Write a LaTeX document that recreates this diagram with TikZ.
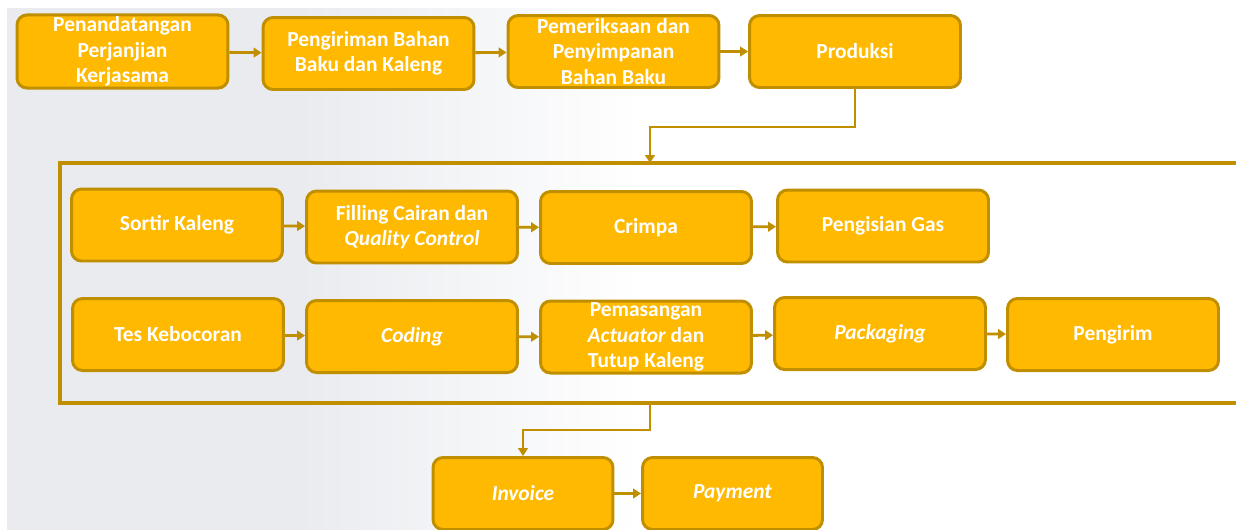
\documentclass[tikz,border=0pt]{standalone}
\usepackage{fontspec}
\setmainfont{Carlito}
\usetikzlibrary{arrows.meta}
\definecolor{boxfill}{HTML}{FFB900}
\definecolor{boxline}{HTML}{BF8F00}
\definecolor{bggray}{HTML}{E9EBEF}
\pgfdeclarehorizontalshading{bgfade}{100bp}{color(0bp)=(bggray); color(48bp)=(bggray); color(75bp)=(white); color(100bp)=(white)}
\begin{document}
\begin{tikzpicture}[x=0.02cm, y=-0.02cm,
    proc/.style={draw=boxline, fill=boxfill, line width=1.7pt, rounded corners=0.2cm,
        minimum width=4.22cm, minimum height=1.44cm, inner sep=1pt, align=center,
        text=white, font=\fontsize{12.2}{14.5}\selectfont\bfseries},
    flow/.style={draw=boxline, line width=1.6pt,
        -{Triangle[length=4.5pt,width=5.5pt]}}]
    \useasboundingbox (0,0) rectangle (1236,529);
    % background
    \shade[shading=bgfade] (7,8) rectangle (640,529);

    % first row
    \node[proc] (tanda) at (122.5,51.5) {Penandatangan\\Perjanjian\\Kerjasama};
    \node[proc] (kirimbahan) at (368.5,53.5) {Pengiriman Bahan\\Baku dan Kaleng};
    \node[proc] (periksa) at (613.5,51.5) {Pemeriksaan dan\\Penyimpanan\\Bahan Baku};
    \node[proc] (produksi) at (855,51.5) {Produksi};

    \draw[flow] (tanda) -- (kirimbahan);
    \draw[flow] (kirimbahan) -- (periksa);
    \draw[flow] (periksa) -- (produksi);

    % production frame
    \draw[boxline, line width=1.9pt] (1250,163) -- (60,163) -- (60,403) -- (1250,403);
    \coordinate (frametop) at (650,163);
    \coordinate (framebot) at (650,403);
    \draw[flow] (produksi.south) -- ++(0,38) -| (frametop);

    % second row
    \node[proc] (sortir) at (177,225) {Sortir Kaleng};
    \node[proc] (filling) at (412,227) {Filling Cairan dan\\\textit{Quality Control}};
    \node[proc] (crimpa) at (646,227.5) {Crimpa};
    \node[proc] (gas) at (883,226) {Pengisian Gas};

    \draw[flow] (sortir) -- (filling);
    \draw[flow] (filling) -- (crimpa);
    \draw[flow] (crimpa) -- (gas);

    % third row
    \node[proc] (bocor) at (178,334.5) {Tes Kebocoran};
    \node[proc] (coding) at (412,336.5) {\textit{Coding}};
    \node[proc] (pasang) at (646,337) {Pemasangan\\\textit{Actuator} dan\\Tutup Kaleng};
    \node[proc] (packaging) at (880,333.5) {\textit{Packaging}};
    \node[proc] (pengirim) at (1113,334.5) {Pengirim};

    \draw[flow] (bocor) -- (coding);
    \draw[flow] (coding) -- (pasang);
    \draw[flow] (pasang) -- (packaging);
    \draw[flow] (packaging) -- (pengirim);

    % last row
    \node[proc, minimum width=3.6cm] (invoice) at (523,493.5) {\textit{Invoice}};
    \node[proc, minimum width=3.6cm] (payment) at (732.5,493.5) {\textit{Payment}};

    \draw[flow] (framebot) -- ++(0,27) -| (invoice.north);
    \draw[flow] (invoice) -- (payment);
\end{tikzpicture}
\end{document}
